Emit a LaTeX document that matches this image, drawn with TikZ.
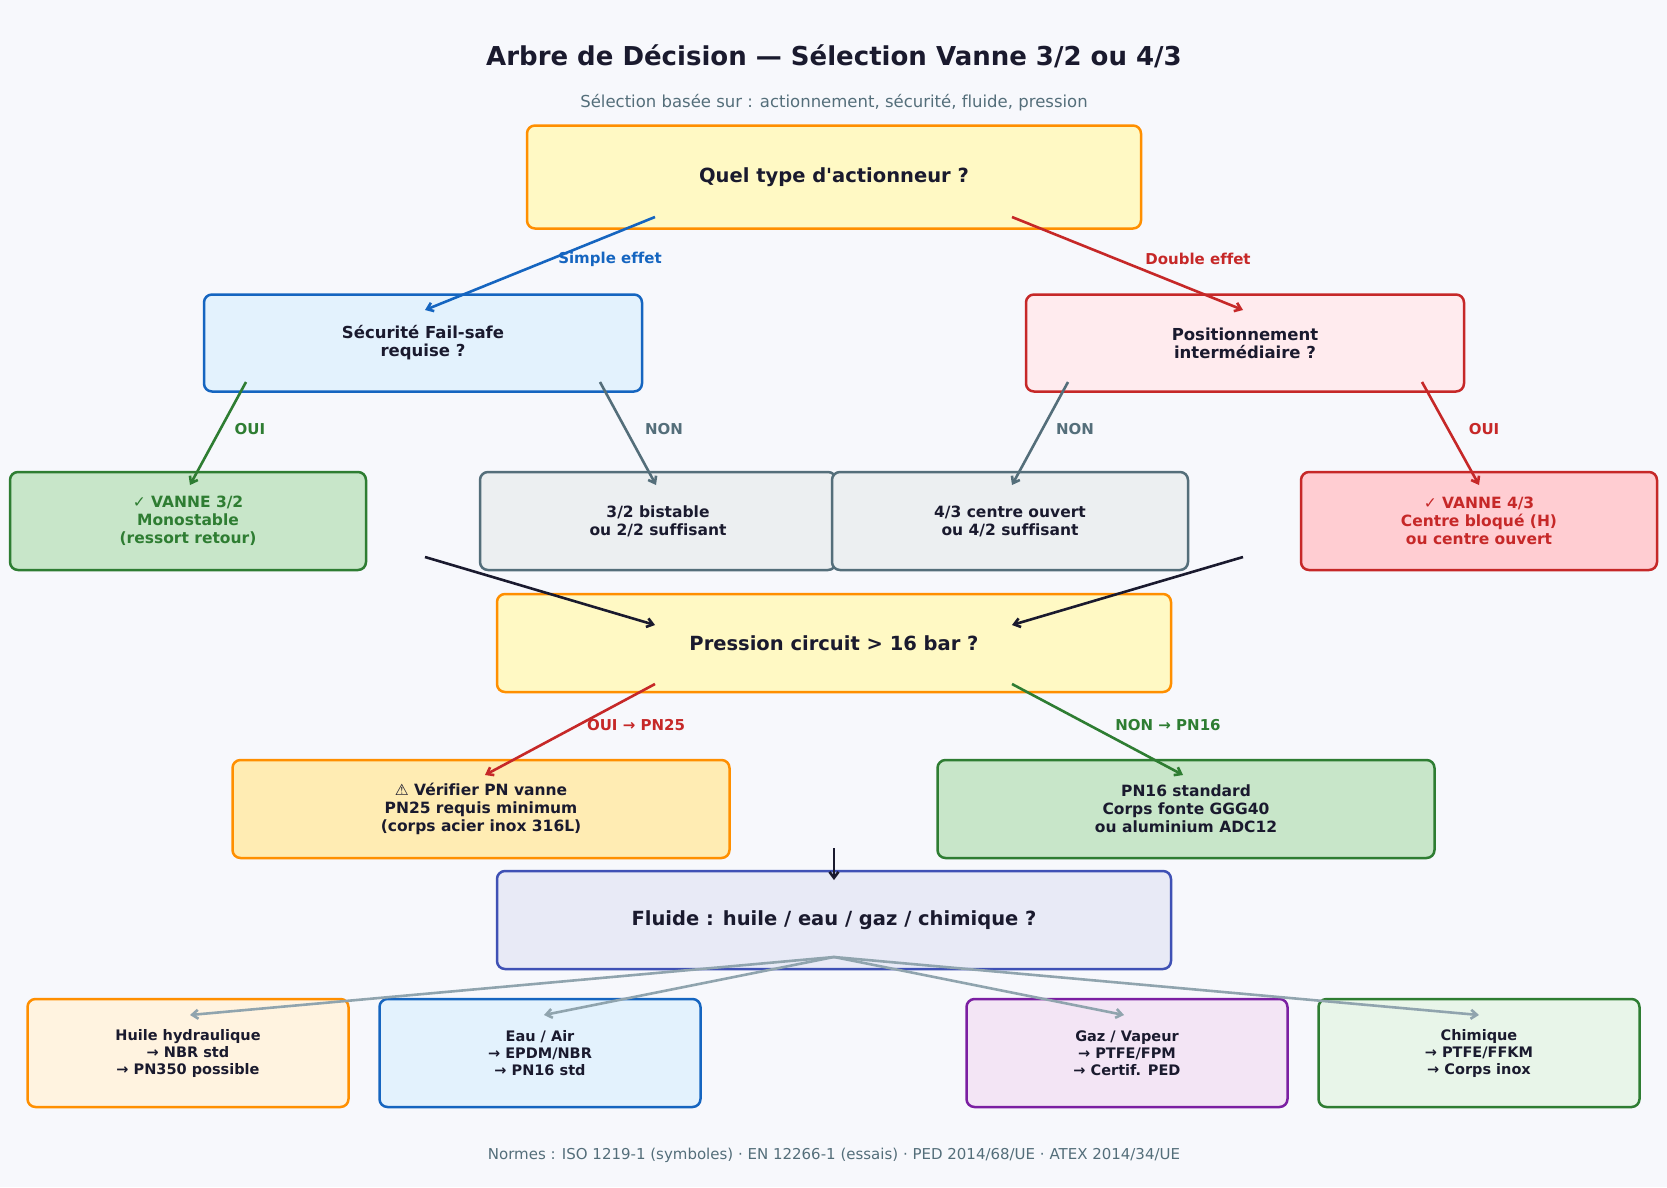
\documentclass[tikz,border=0pt]{standalone}
\usepackage{fontspec}
\setmainfont[Ligatures=NoCommon]{DejaVu Sans}
\usepackage{textcomp}
\usepackage{tikz}
\usetikzlibrary{arrows.meta,calc}

\definecolor{ink}{HTML}{1A1A2E}
\definecolor{slate}{HTML}{546E7A}
\definecolor{bgc}{HTML}{F7F8FC}
\definecolor{orng}{HTML}{FF8F00}
\definecolor{blu}{HTML}{1565C0}
\definecolor{rd}{HTML}{C62828}
\definecolor{grn}{HTML}{2E7D32}
\definecolor{indg}{HTML}{3F51B5}
\definecolor{purp}{HTML}{7B1FA2}
\definecolor{lgrey}{HTML}{90A4AE}
\definecolor{fYel}{HTML}{FFF9C4}
\definecolor{fBlu}{HTML}{E3F2FD}
\definecolor{fRed}{HTML}{FFEBEE}
\definecolor{fRed2}{HTML}{FFCDD2}
\definecolor{fGrn}{HTML}{C8E6C9}
\definecolor{fGrn2}{HTML}{E8F5E9}
\definecolor{fGry}{HTML}{ECEFF1}
\definecolor{fAmb}{HTML}{FFECB3}
\definecolor{fInd}{HTML}{E8EAF6}
\definecolor{fOrg}{HTML}{FFF3E0}
\definecolor{fPur}{HTML}{F3E5F5}

\tikzset{
    box/.style={draw, line width=2.5pt, rounded corners=8pt, align=center,
        font=\bfseries, text=ink},
    big/.style={box, minimum width=674pt, minimum height=98pt, font=\fontsize{19.5}{23}\selectfont\bfseries},
    mid/.style={box, minimum width=438pt, minimum height=97pt, font=\fontsize{16.5}{18}\selectfont\bfseries},
    leaf/.style={box, minimum width=356pt, minimum height=98pt, font=\fontsize{15.5}{18}\selectfont\bfseries},
    pn/.style={box, minimum width=497pt, minimum height=98pt, font=\fontsize{15.5}{18}\selectfont\bfseries},
    fl/.style={box, minimum width=321pt, minimum height=108pt, font=\fontsize{14.5}{17}\selectfont\bfseries},
    arr/.style={->, line width=2.6pt, >={Straight Barb[length=6pt,width=9pt]}},
    lab/.style={font=\fontsize{15}{16}\selectfont\bfseries},
}

\begin{document}
\begin{tikzpicture}[x=1pt, y=-1pt]
    \fill[bgc] (0,0) rectangle (1667,1187);
    \useasboundingbox (0,0) rectangle (1667,1187);

    \node[font=\fontsize{26}{28}\selectfont\bfseries, text=ink] (title) at (834,56)
        {Arbre de Décision — Sélection Vanne 3/2 ou 4/3};
    \node[font=\fontsize{16.5}{18}\selectfont, text=slate] (subtitle) at (834,103)
        {Sélection basée sur : actionnement, sécurité, fluide, pression};

    % questions
    \node[big, fill=fYel, draw=orng, minimum width=614pt, minimum height=103pt] (Act) at (834,177)
        {Quel type d\textquotesingle actionneur ?};
    \node[mid, fill=fBlu, draw=blu] (Safe) at (423,343)
        {Sécurité Fail-safe\\requise ?};
    \node[mid, fill=fRed, draw=rd] (Pos) at (1245,343)
        {Positionnement\\intermédiaire ?};

    % first answers
    \node[leaf, fill=fGrn, draw=grn, text=grn] (V32) at (188,521)
        {✓ VANNE 3/2\\Monostable\\(ressort retour)};
    \node[leaf, fill=fGry, draw=slate] (Bis) at (658,521)
        {3/2 bistable\\ou 2/2 suffisant};
    \node[leaf, fill=fGry, draw=slate] (Cen) at (1010,521)
        {4/3 centre ouvert\\ou 4/2 suffisant};
    \node[leaf, fill=fRed2, draw=rd, text=rd] (V43) at (1479,521)
        {✓ VANNE 4/3\\Centre bloqué (H)\\ou centre ouvert};

    % pressure
    \node[big, fill=fYel, draw=orng] (Pres) at (834,643)
        {Pression circuit > 16 bar ?};
    \node[pn, fill=fAmb, draw=orng] (PN25) at (481,809)
        {⚠ Vérifier PN vanne\\PN25 requis minimum\\(corps acier inox 316L)};
    \node[pn, fill=fGrn, draw=grn] (PN16) at (1186,809)
        {PN16 standard\\Corps fonte GGG40\\ou aluminium ADC12};

    % fluid
    \node[big, fill=fInd, draw=indg] (Flu) at (834,920)
        {Fluide : huile / eau / gaz / chimique ?};
    \node[fl, fill=fOrg, draw=orng] (Oil) at (188,1053)
        {Huile hydraulique\\→ NBR std\\→ PN350 possible};
    \node[fl, fill=fBlu, draw=blu] (Wat) at (540,1053)
        {Eau / Air\\→ EPDM/NBR\\→ PN16 std};
    \node[fl, fill=fPur, draw=purp] (Gas) at (1127,1053)
        {Gaz / Vapeur\\→ PTFE/FPM\\→ Certif. PED};
    \node[fl, fill=fGrn2, draw=grn] (Chem) at (1479,1053)
        {Chimique\\→ PTFE/FFKM\\→ Corps inox};

    \node[font=\fontsize{15}{16}\selectfont, text=slate] (foot) at (834,1155)
        {Normes : ISO 1219-1 (symboles) · EN 12266-1 (essais) · PED 2014/68/UE · ATEX 2014/34/UE};

    % connectors
    \coordinate (ActL) at ($(Act)+(-179,40)$);
    \coordinate (ActR) at ($(Act)+(178,40)$);
    \coordinate (SafeL) at ($(Safe)+(-177,39)$);
    \coordinate (SafeR) at ($(Safe)+(177,39)$);
    \coordinate (PosL) at ($(Pos)+(-177,39)$);
    \coordinate (PosR) at ($(Pos)+(177,39)$);
    \coordinate (PresL) at ($(Pres)+(-179,-18)$);
    \coordinate (PresR) at ($(Pres)+(178,-18)$);
    \coordinate (PresBL) at ($(Pres)+(-179,41)$);
    \coordinate (PresBR) at ($(Pres)+(178,41)$);
    \coordinate (FluTop) at ($(Flu)+(0,-40)$);
    \coordinate (FluBot) at ($(Flu)+(0,37)$);

    \draw[arr, blu] (ActL) -- ($(Safe)+(2,-33)$);
    \node[lab, text=blu] (lSimple) at (610,259) {Simple effet};
    \draw[arr, rd] (ActR) -- ($(Pos)+(-2,-33)$);
    \node[lab, text=rd] (lDouble) at (1198,259) {Double effet};

    \draw[arr, grn] (SafeL) -- ($(V32)+(2,-36)$);
    \node[lab, text=grn] (lOui1) at (250,429) {OUI};
    \draw[arr, slate] (SafeR) -- ($(Bis)+(-2,-36)$);
    \node[lab, text=slate] (lNon1) at (664,429) {NON};
    \draw[arr, slate] (PosL) -- ($(Cen)+(2,-36)$);
    \node[lab, text=slate] (lNon2) at (1075,429) {NON};
    \draw[arr, rd] (PosR) -- ($(V43)+(0,-36)$);
    \node[lab, text=rd] (lOui2) at (1484,429) {OUI};

    \draw[arr, ink] ($(Safe)+(2,214)$) -- (PresL);
    \draw[arr, ink] ($(Pos)+(-2,214)$) -- (PresR);

    \draw[arr, rd] (PresBL) -- ($(PN25)+(4,-34)$);
    \node[lab, text=rd] (lPN25) at (636,725) {OUI → PN25};
    \draw[arr, grn] (PresBR) -- ($(PN16)+(-3,-34)$);
    \node[lab, text=grn] (lPN16) at (1168,725) {NON → PN16};

    \draw[arr, ink] ($(Pres)+(0,205)$) -- (FluTop);

    \foreach \t/\dx in {Oil/2, Wat/4, Gas/-3, Chem/0}
        \draw[arr, lgrey] (FluBot) -- ($(\t)+(\dx,-38)$);
\end{tikzpicture}
\end{document}
